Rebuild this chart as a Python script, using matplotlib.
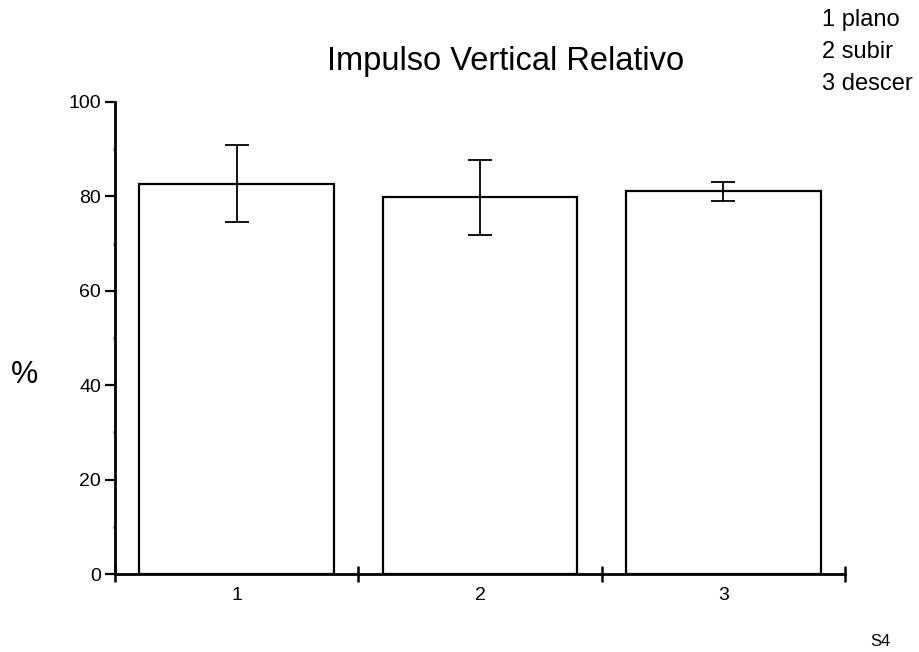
import matplotlib
matplotlib.use("Agg")
import matplotlib.pyplot as plt
from matplotlib.ticker import FixedLocator, NullFormatter

plt.rcParams['font.family'] = ['Liberation Sans', 'DejaVu Sans']

categories = ["1", "2", "3"]
means = [82.7, 79.8, 81.1]
errors = [8.1, 8.0, 2.0]
y_ticks = [0, 20, 40, 60, 80, 100]
y_minor = [10, 30, 50, 70, 90]
legend_lines = ["1 plano", "2 subir", "3 descer"]
title = "Impulso Vertical Relativo"
y_label = "%"
corner_note = "S4"

fig = plt.figure(figsize=(9.19, 6.52), dpi=100)
ax = fig.add_axes([0.1251, 0.1196, 0.7944, 0.7240])

x = list(range(1, len(categories) + 1))
ax.bar(x, means, width=0.8, color="white", edgecolor="black", linewidth=1.6, zorder=2)
ax.errorbar(x, means, yerr=errors, fmt="none", ecolor="black", elinewidth=1.3,
            capsize=8.5, capthick=1.3, zorder=3)

ax.set_xlim(0.5, 3.5)
ax.set_ylim(0, 100)

for s in ["top", "right"]:
    ax.spines[s].set_visible(False)
for s in ["left", "bottom"]:
    ax.spines[s].set_linewidth(2.0)

ax.set_yticks(y_ticks)
ax.set_yticklabels([str(v) for v in y_ticks], fontsize=14)
ax.yaxis.set_minor_locator(FixedLocator(y_minor))
ax.tick_params(axis="y", which="major", direction="out", length=7, width=1.6, pad=3)
ax.tick_params(axis="y", which="minor", direction="out", length=1.5, width=1.8, color="#555555")

ax.set_xticks(x)
ax.set_xticklabels(categories, fontsize=14)
ax.xaxis.set_minor_locator(FixedLocator([0.5, 1.5, 2.5, 3.5]))
ax.xaxis.set_minor_formatter(NullFormatter())
ax.tick_params(axis="x", which="major", length=0, pad=9)
ax.tick_params(axis="x", which="minor", direction="inout", length=11, width=1.8)

fig.text(25 / 919, 1 - 375 / 652, y_label, fontsize=22, ha="center", va="center")
fig.text(506 / 919, 1 - 70 / 652, title, fontsize=23.5, ha="center", va="baseline")
for i, line in enumerate(legend_lines):
    fig.text(822 / 919, 1 - (26 + 32 * i) / 652, line, fontsize=17, ha="left",
             va="baseline")
fig.text(880 / 919, 1 - 641 / 652, corner_note, fontsize=12, ha="center", va="center")

fig.savefig("out.png", dpi=100)
